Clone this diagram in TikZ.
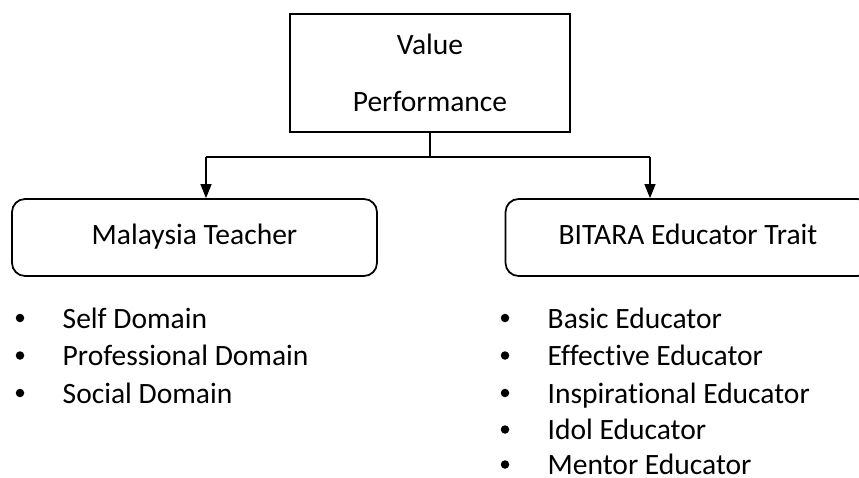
\documentclass[tikz,border=0pt]{standalone}
\usepackage{fontspec}
\setmainfont{Carlito}[Ligatures=NoCommon]
\usetikzlibrary{arrows.meta,positioning}
\tikzset{
  line cap=round,
  line join=round,
  every picture/.style={line width=0.8pt},
  valuebox/.style={draw, minimum width=5.6cm, minimum height=2.36cm, align=center,
    font=\fontsize{16.8}{32.4}\selectfont},
  groupbox/.style={draw, line width=1pt, rounded corners=0.26cm, minimum width=7.3cm,
    minimum height=1.54cm, font=\fontsize{16.8}{20}\selectfont},
  arrow/.style={-{Triangle[length=0.28cm,width=0.22cm]}},
  item/.style={anchor=west, inner sep=0pt, text height=0.44cm, text depth=0.04cm,
    font=\fontsize{16.8}{20}\selectfont,
    label={[anchor=center, circle, fill, inner sep=0pt, minimum size=0.17cm,
      label distance=0.84cm]left:{}}}
}
\begin{document}
\begin{tikzpicture}[x=0.02cm, y=-0.02cm]

\clip (0,0) rectangle (859,477);

% top box
\node[valuebox] (value) at (430,73) {Value\\Performance};

% the two groups
\node[groupbox] (teacher) at (194.5,237.5) {\raisebox{0.15cm}{Malaysia Teacher}};
\node[groupbox] (bitara) at (688,237.5) {\raisebox{0.15cm}{BITARA Educator Trait}};

% connectors
\coordinate (split) at (430,157);
\coordinate (tleft) at (206,157);
\coordinate (tright) at (650,157);
\draw (value.south) -- (split);
\draw (tleft) -- (tright);
\draw[arrow] (tleft) -- (tleft |- teacher.north);
\draw[arrow] (tright) -- (tright |- bitara.north);

% domains
\node[item] (self) at (62,318) {Self Domain};
\node[item] (prof) at (62,355.5) {Professional Domain};
\node[item] (social) at (62,393) {Social Domain};

% educator traits
\node[item] (basic) at (547,318) {Basic Educator};
\node[item] (effective) at (547,355.5) {Effective Educator};
\node[item] (inspire) at (547,393) {Inspirational Educator};
\node[item] (idol) at (547,429.5) {Idol Educator};
\node[item] (mentor) at (547,464.5) {Mentor Educator};

\end{tikzpicture}
\end{document}
